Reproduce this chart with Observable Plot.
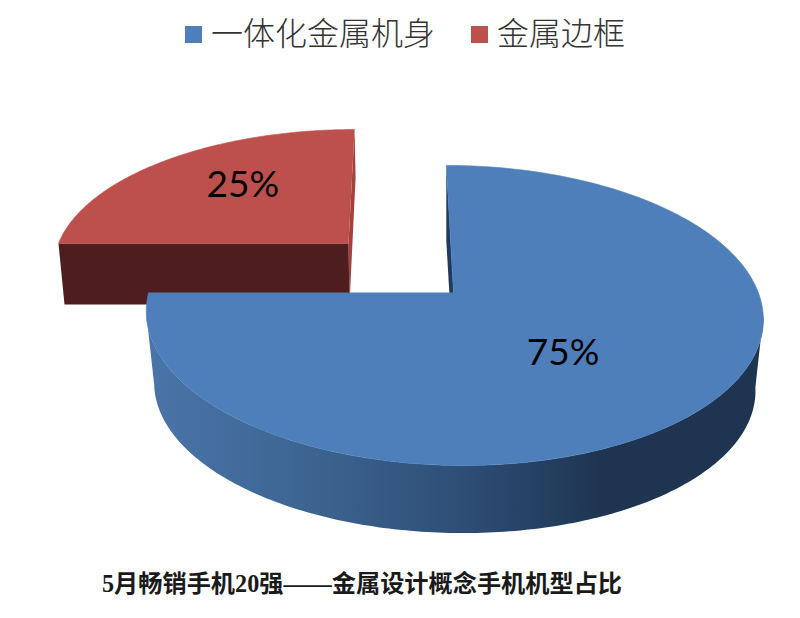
<!DOCTYPE html>
<html><head><meta charset="utf-8">
<script src="https://cdn.jsdelivr.net/npm/d3@7"></script>
<script src="https://cdn.jsdelivr.net/npm/@observablehq/plot@0.6"></script>
<style>
html,body{margin:0;padding:0;background:#fff;width:800px;height:618px;overflow:hidden}
#legend{height:60px;position:relative;font-family:"Noto Sans CJK SC",sans-serif;font-size:32px;color:#333;font-weight:300}
#legend span{position:absolute;top:9px;line-height:44px;white-space:nowrap}
#legend i{position:absolute;top:26px;width:17px;height:17px}
#chart{height:500px}
#chart svg{display:block}
#caption{position:absolute;left:102px;top:569px;font:bold 24.2px/30px "Liberation Serif","Noto Sans CJK SC",serif;color:#1a1a1a;white-space:nowrap}
</style></head><body>
<div id="legend"></div><div id="chart"></div>
<div id="caption"></div>
<script>
const categories = ["一体化金属机身", "金属边框"];
const shares = [75, 25];
const colors = ["#4e7fbb", "#bd504d"];
const sideColors = ["#1f3a5a", "#a5403e"];
const cutColors = ["#1f3a5a", "#4d1e1d"];
const labelRadius = [0.47, 0.56];
const caption = "5月畅销手机20强——金属设计概念手机机型占比";

// perspective parameters of each exploded slice: top disc and bottom disc
const tops = [
  {x0: 453, y0: 292, a: 146.5, b: 304.8, c: -8.3, k: 0.153},
  {x0: 348, y0: 243, a: 131.4, b: 290, c: 7, k: 0.153}
];
const bottoms = [
  {x0: 453, y0: 364, a: 142.8, b: 297, c: -8.3, k: 0.153},
  {x0: 349, y0: 304, a: 146, b: 285, c: 7, k: 0.153}
];

function project(p, deg, r = 1) {
  const t = deg * Math.PI / 180, u = r * Math.sin(t), v = r * Math.cos(t), w = 1 + p.k * v;
  return [p.x0 + (p.b * u + p.c * v) / w, p.y0 - p.a * v / w];
}
const arc = (p, from, to) => d3.range(0, 181).map(i => project(p, from + (to - from) * i / 180));

const spans = [];
let acc = 0;
for (const s of shares) { spans.push([acc * 3.6, (acc + s) * 3.6]); acc += s; }

const poly = (pts, fill, edge) => Plot.line(pts, {x: d => d[0], y: d => d[1], fill, stroke: edge ? fill : "none", strokeWidth: edge ? 0.6 : 0, curve: "linear"});

// red slice
const r = 1;
const redMarks = [
  poly([project(tops[r], 0), project(tops[r], 0, 0), project(bottoms[r], 0, 0), project(bottoms[r], 0)], sideColors[r]),
  poly([project(tops[r], spans[r][0]), project(tops[r], 0, 0), project(bottoms[r], 0, 0), project(bottoms[r], spans[r][0])], cutColors[r]),
  poly([project(tops[r], 0, 0), ...arc(tops[r], spans[r][0], spans[r][1])], colors[r], true)
];
// blue slice
const b = 0;
const sideFrom = 99, sideTo = 262; // silhouette tangents of the rim
const blueMarks = [
  poly([project(tops[b], 0), project(tops[b], 0, 0), project(bottoms[b], 0, 0), project(bottoms[b], 0)], cutColors[b]),
  poly([...arc(tops[b], sideFrom, sideTo), ...arc(bottoms[b], sideTo, sideFrom)], "url(#rim)"),
  poly([project(tops[b], 0, 0), ...arc(tops[b], spans[b][0], spans[b][1])], colors[b], true)
];

const labels = shares.map((s, i) => {
  const [x, y] = project(tops[i], (spans[i][0] + spans[i][1]) / 2, labelRadius[i]);
  return {x, y: y + (i === 0 ? 9 : -9), text: s + "%"};
});

const defs = () => {
  const d = d3.create("svg:defs");
  const g = d.append("linearGradient").attr("id", "rim").attr("gradientUnits", "userSpaceOnUse")
    .attr("x1", 146).attr("x2", 763).attr("y1", 0).attr("y2", 0);
  [[0, "#4a75aa"], [0.25, "#3e6592"], [0.5, "#2e4f77"], [0.75, "#1e3450"], [1, "#1e3450"]]
    .forEach(([o, c]) => g.append("stop").attr("offset", o).attr("stop-color", c));
  return d.node();
};

const chart = Plot.plot({
  width: 800, height: 500, margin: 0,
  x: {domain: [0, 800], range: [0, 800], axis: null},
  y: {domain: [60, 560], range: [0, 500], axis: null},
  style: {background: "#fff"},
  marks: [
    defs,
    ...redMarks,
    ...blueMarks,
    Plot.text(labels, {x: "x", y: "y", text: "text", fontSize: 37, fill: "#000",
      fontFamily: "Lato, 'Open Sans', sans-serif", textAnchor: "middle"})
  ]
});
document.getElementById("chart").append(chart);

const legend = document.getElementById("legend");
const legendX = [[185, 211], [471, 497]];
categories.forEach((c, i) => {
  const sw = document.createElement("i"); sw.style.left = legendX[i][0] + "px"; sw.style.background = colors[i];
  const t = document.createElement("span"); t.style.left = legendX[i][1] + "px"; t.textContent = c;
  legend.append(sw, t);
});
document.getElementById("caption").textContent = caption;
</script>
</body></html>
